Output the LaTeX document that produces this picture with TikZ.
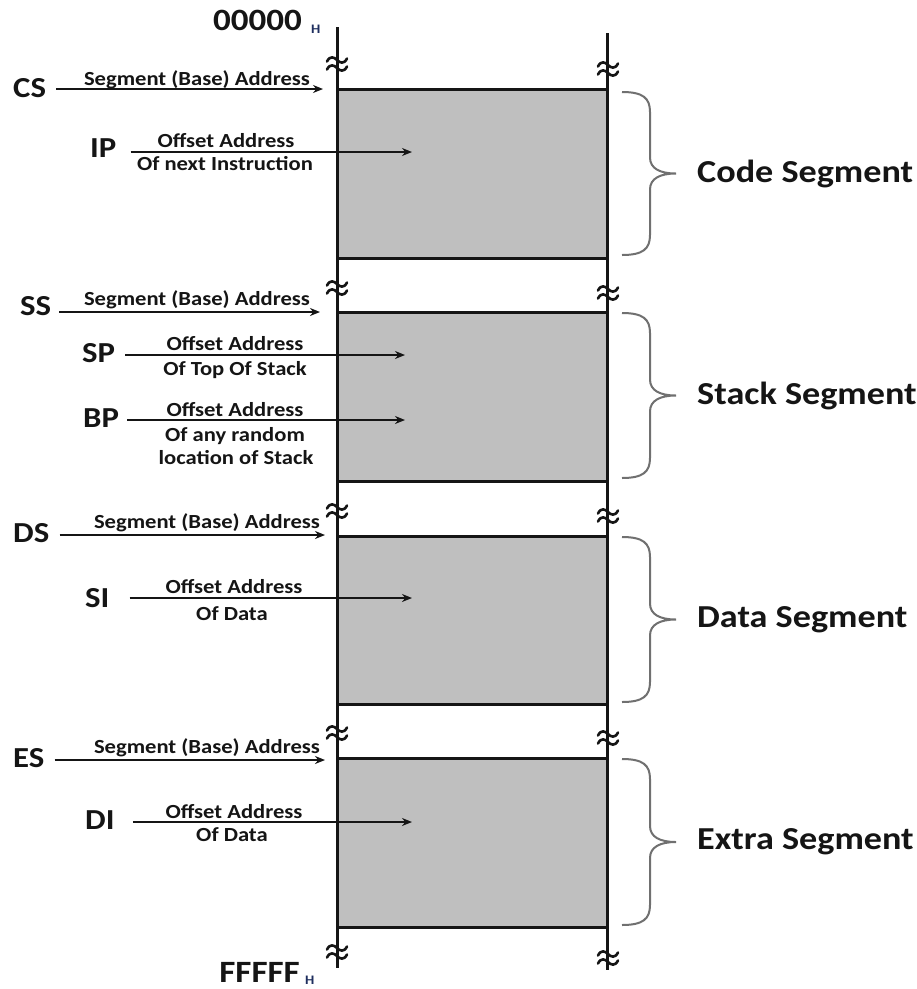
\documentclass[tikz,border=0pt]{standalone}
\usepackage{fontspec}
\setmainfont{Carlito}
\usepackage{graphicx}
\usetikzlibrary{arrows.meta}
\newcommand{\wx}[1]{\scalebox{1.13}[1]{#1}}
\definecolor{boxgray}{HTML}{BFBFBF}
\definecolor{bracegray}{HTML}{707070}
\definecolor{hnavy}{HTML}{1F2F5F}
\definecolor{ink}{HTML}{151515}
\tikzset{
  reg/.style={font=\fontsize{29}{29}\selectfont\bfseries, text=ink, inner sep=0pt, anchor=west},
  small/.style={font=\fontsize{20}{20}\selectfont\bfseries, text=ink, inner sep=0pt, anchor=base},
  seglabel/.style={font=\fontsize{32}{32}\selectfont\bfseries, text=ink, inner sep=0pt, anchor=west},
  addr/.style={font=\fontsize{31}{31}\selectfont\bfseries, text=ink, inner sep=0pt, anchor=base east},
  hsub/.style={font=\fontsize{13}{13}\selectfont\bfseries, text=hnavy, inner sep=0pt, anchor=base west},
  arr/.style={line width=2pt, draw=ink, -{Stealth[length=10pt,width=8pt]}},
  bar/.style={line width=3pt, draw=ink},
  edge/.style={line width=3pt, draw=ink},
  bracepath/.style={line width=2pt, draw=bracegray},
  brk/.pic={
    \foreach \o in {-4,4}{
      \draw[line width=2.6pt, draw=ink, line cap=round]
        (-10,{\o+1.5}) .. controls (-7,{\o-4.5}) and (-3,{\o-3}) .. (0,\o)
        .. controls (3,{\o+3}) and (7,{\o+4.5}) .. (10,{\o-1.5});
    }
  }
}
\begin{document}
\begin{tikzpicture}[x=1pt,y=-1pt]
\useasboundingbox (0,0) rectangle (917,989);
\fill[white] (0,0) rectangle (917,989);

% segment boxes
\foreach \t/\b in {89/258, 312/481, 536/704, 758/927}{
  \fill[boxgray] (337,\t) rectangle (607,\b);
  \draw[edge] (337,\t) -- (607,\t);
  \draw[edge] (337,\b) -- (607,\b);
}
% vertical address lines
\draw[bar] (337,27) -- (337,968);
\draw[bar] (607,33) -- (607,970);
% breaks
\foreach \y in {64,288,511,733,952}{ \pic at (337,\y) {brk}; }
\foreach \y in {69,293,516,738,958}{ \pic at (608,\y) {brk}; }

% top / bottom addresses
\node[addr] (top) at (302,30) {\wx{00000}};
\node[hsub] (toph) at (311,33) {\wx{H}};
\node[addr] (bot) at (300,982) {\wx{FFFFF}};
\node[hsub] (both) at (305,984) {\wx{H}};

% ---- Code segment
\node[reg] (cs) at (13,88) {\wx{CS}};
\coordinate (csT) at (323,89);
\draw[arr] ([xshift=10pt]cs.east |- csT) -- (csT);
\node[small] (cst) at (197,85) {\wx{Segment (Base) Address}};
\node[reg] (ip) at (90,148) {\wx{IP}};
\coordinate (ipT) at (412,152);
\draw[arr] ([xshift=14pt]ip.east |- ipT) -- (ipT);
\node[small] (ipa) at (226,147) {\wx{Offset Address}};
\node[small] (ipb) at (225,170) {\wx{Of next Instruction}};

% ---- Stack segment
\node[reg] (ss) at (20,306) {\wx{SS}};
\coordinate (ssT) at (320,312);
\draw[arr] ([xshift=8pt]ss.east |- ssT) -- (ssT);
\node[small] (sst) at (197,305) {\wx{Segment (Base) Address}};
\node[reg] (sp) at (82,353) {\wx{SP}};
\coordinate (spT) at (405,355);
\draw[arr] ([xshift=10pt]sp.east |- spT) -- (spT);
\node[small] (spa) at (235,350) {\wx{Offset Address}};
\node[small] (spb) at (235,375) {\wx{Of Top Of Stack}};
\node[reg] (bp) at (83,418) {\wx{BP}};
\coordinate (bpT) at (405,420);
\draw[arr] ([xshift=8pt]bp.east |- bpT) -- (bpT);
\node[small] (bpa) at (235,416) {\wx{Offset Address}};
\node[small] (bpb) at (235,441) {\wx{Of any random}};
\node[small] (bpc) at (236,464) {\wx{location of Stack}};

% ---- Data segment
\node[reg] (ds) at (13,533) {\wx{DS}};
\coordinate (dsT) at (325,535);
\draw[arr] ([xshift=10pt]ds.east |- dsT) -- (dsT);
\node[small] (dst) at (207,528) {\wx{Segment (Base) Address}};
\node[reg] (si) at (85,598) {\wx{SI}};
\coordinate (siT) at (412,598);
\draw[arr] ([xshift=20pt]si.east |- siT) -- (siT);
\node[small] (sia) at (234,593) {\wx{Offset Address}};
\node[small] (sib) at (232,620) {\wx{Of Data}};

% ---- Extra segment
\node[reg] (es) at (13,758) {\wx{ES}};
\coordinate (esT) at (325,760);
\draw[arr] ([xshift=10pt]es.east |- esT) -- (esT);
\node[small] (est) at (207,753) {\wx{Segment (Base) Address}};
\node[reg] (di) at (85,820) {\wx{DI}};
\coordinate (diT) at (412,822);
\draw[arr] ([xshift=18pt]di.east |- diT) -- (diT);
\node[small] (dia) at (234,818) {\wx{Offset Address}};
\node[small] (dib) at (232,841) {\wx{Of Data}};

% braces and segment names
\foreach \t/\b/\txt/\nm in {92/255/Code Segment/lcode, 313/478/Stack Segment/lstack, 537/702/Data Segment/ldata, 759/925/Extra Segment/lextra}{
  \pgfmathsetmacro{\m}{(\t+\b)/2}
  \draw[bracepath] (622,\t) .. controls (643,\t) and (650,{\t+6}) .. (650,{\t+20})
    -- (650,{\m-16}) .. controls (650,{\m-5}) and (660,\m) .. (676,\m)
    .. controls (660,\m) and (650,{\m+5}) .. (650,{\m+16})
    -- (650,{\b-20}) .. controls (650,{\b-6}) and (643,\b) .. (622,\b);
  \node[seglabel] (\nm) at (697,\m) {\wx{\txt}};
}
\end{tikzpicture}
\end{document}
